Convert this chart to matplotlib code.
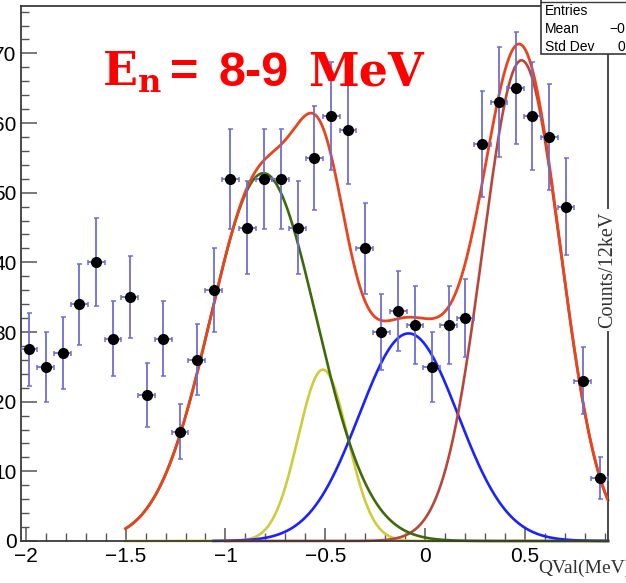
import numpy as np
import matplotlib
matplotlib.use("Agg")
import matplotlib.pyplot as plt
from matplotlib.patches import Rectangle
from matplotlib.lines import Line2D
from matplotlib.ticker import MultipleLocator, FixedLocator

# ---------------- data ----------------
bin_centers = [-1.983, -1.899, -1.815, -1.731, -1.647, -1.563, -1.479, -1.395,
               -1.311, -1.227, -1.143, -1.059, -0.975, -0.891, -0.807, -0.723,
               -0.639, -0.555, -0.471, -0.387, -0.303, -0.219, -0.135, -0.051,
               0.033, 0.117, 0.201, 0.285, 0.369, 0.453, 0.537, 0.621,
               0.705, 0.789, 0.873]
counts = [27.5, 25, 27, 34, 40, 29, 35, 21, 29, 15.7, 26, 36, 52, 45, 52, 52,
          45, 55, 61, 59, 42, 30, 33, 31, 25, 31, 32, 57, 63, 65, 61, 58,
          48, 23, 9.1]
bin_half_width = 0.042

# fitted gaussian components (amplitude, mean, sigma, range)
comp_names = ["yellow", "blue", "brown", "green"]
comp_amp = [24.6, 29.8, 69.0, 52.8]
comp_mean = [-0.512, -0.083, 0.482, -0.81]
comp_sigma = [0.124, 0.248, 0.195, 0.265]
comp_lo = [-1.5, -1.06, -1.0, -1.5]
comp_hi = [0.915, 0.915, 0.915, 0.915]
total_range = [-1.5, 0.915]

x_ticks_major = [-2, -1.5, -1, -0.5, 0, 0.5]
y_ticks_major = [0, 10, 20, 30, 40, 50, 60, 70]

comp_colors = ["#cfcc3c", "#1a22ff", "#b8473a", "#3f6a0c"]
total_color = "#e8441e"

# ---------------- figure ----------------
W, H = 626, 583
fig = plt.figure(figsize=(W / 100, H / 100), dpi=100)
L, R, T, B = 20.7, 608.0, 6.0, 541.0
ax = fig.add_axes([L / W, 1 - B / H, (R - L) / W, (B - T) / H])
ax.set_xlim(-2.025, 0.915)
ax.set_ylim(0, 76.8)


def gauss(x, a, m, s):
    return a * np.exp(-0.5 * ((x - m) / s) ** 2)


# components
for name, a, m, s, lo, hi, c in zip(comp_names, comp_amp, comp_mean, comp_sigma,
                                    comp_lo, comp_hi, comp_colors):
    xx = np.linspace(lo, hi, 600)
    ax.plot(xx, gauss(xx, a, m, s), color=c, lw=1.9, zorder=2, clip_on=False)

xt = np.linspace(total_range[0], total_range[1], 800)
tot = np.zeros_like(xt)
for a, m, s in zip(comp_amp, comp_mean, comp_sigma):
    tot += gauss(xt, a, m, s)
ax.plot(xt, tot, color=total_color, lw=2.0, zorder=3)

# data with errors
cnt = np.array(counts)
ax.errorbar(bin_centers, cnt, yerr=np.sqrt(cnt), xerr=bin_half_width,
            fmt="o", ms=7.0, mfc="black", mec="black", ecolor="#6e6ed2",
            elinewidth=1.3, capsize=1.8, capthick=1.1, zorder=4)

# axes styling
for sp in ax.spines.values():
    sp.set_color("#3a3a3a")
    sp.set_linewidth(1.3)

ax.xaxis.set_major_locator(FixedLocator(x_ticks_major))
ax.xaxis.set_minor_locator(MultipleLocator(0.1))
ax.yaxis.set_major_locator(FixedLocator(y_ticks_major))
ax.yaxis.set_minor_locator(MultipleLocator(2))
ax.tick_params(axis="both", which="both", direction="in", colors="#555555",
               labelcolor="black", top=False, right=False)
ax.tick_params(axis="x", which="major", length=9.5, width=1.1, labelsize=15, pad=4)
ax.tick_params(axis="x", which="minor", length=5.5, width=1.0)
ax.tick_params(axis="y", which="major", length=11.5, width=1.1, labelsize=15, pad=3)
ax.tick_params(axis="y", which="minor", length=5.5, width=1.0)
ax.set_xticklabels(["\u22122", "\u22121.5", "\u22121", "\u22120.5", "0", "0.5"],
                   family="Liberation Sans")
ax.set_yticklabels([str(v) for v in y_ticks_major], family="Liberation Sans")


def px(x, y):
    return x / W, 1 - y / H


# title
red = "#ff0000"
fig.text(*px(102, 86), r"$\mathbf{E_n}$", color=red, fontsize=33,
         math_fontfamily="dejavuserif", va="baseline", ha="left")
fig.text(*px(170, 86), "=", color=red, fontsize=35, family="Liberation Sans",
         weight="bold", va="baseline", ha="left")
fig.text(*px(218, 86), "8-9", color=red, fontsize=35, family="Liberation Sans",
         weight="bold", va="baseline", ha="left")
fig.text(*px(308, 86), "MeV", color=red, fontsize=33, family="DejaVu Serif",
         weight="bold", va="baseline", ha="left")

# axis titles (ROOT style)
fig.text(*px(538, 573), "QVal(MeV)", color="#333333", fontsize=14,
         family="Liberation Serif", va="baseline", ha="left")
fig.text(*px(608, 270), "Counts/12keV", color="#333333", fontsize=14.5,
         family="Liberation Serif", rotation=90, ha="center", va="center",
         bbox=dict(boxstyle="square,pad=0.15", fc="white", ec="none"))

# stats box
box = Rectangle(px(541, 54), (W + 10 - 541) / W, (54 + 10) / H,
                transform=fig.transFigure, fc="white", ec="#3a3a3a", lw=1.2,
                zorder=10)
fig.patches.append(box)
fig.add_artist(Line2D([541 / W, 1.0], [1 - 1.5 / H, 1 - 1.5 / H],
                      transform=fig.transFigure, color="#3a3a3a", lw=1.0, zorder=11))
for label, yy in [("Entries", 15), ("Mean", 33), ("Std Dev", 51)]:
    fig.text(*px(545, yy), label, fontsize=10, family="Liberation Sans",
             va="baseline", ha="left", zorder=12)
for val, xx, yy in [("\u22120.3082", 609, 33), ("0.4421", 618, 51)]:
    fig.text(*px(xx, yy), val, fontsize=10, family="Liberation Sans",
             va="baseline", ha="left", zorder=12)

fig.savefig("out.png", dpi=100)
